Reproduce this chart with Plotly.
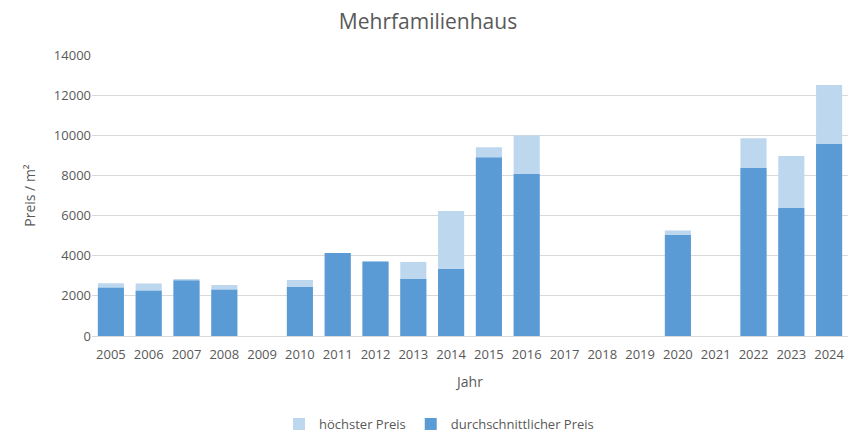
import plotly.graph_objects as go

# Jahre und Preise (EUR / m²)
years = [str(y) for y in range(2005, 2025)]
hoechster_preis = [2630, 2620, 2840, 2540, None, 2790, 4140, 3740, 3690, 6230,
                   9400, 9990, None, None, None, 5260, None, 9850, 8970, 12500]
durchschnitt_preis = [2400, 2260, 2760, 2310, None, 2440, 4130, 3700, 2840, 3340,
                      8890, 8070, None, None, None, 5030, None, 8370, 6380, 9570]
y_ticks = [0, 2000, 4000, 6000, 8000, 10000, 12000, 14000]

grey = '#595959'
font_family = 'Open Sans, sans-serif'

fig = go.Figure()
fig.add_trace(go.Bar(
    x=years, y=hoechster_preis, name='höchster Preis',
    marker=dict(color='#BDD7EE', line=dict(width=0)),
))
fig.add_trace(go.Bar(
    x=years, y=durchschnitt_preis, name='durchschnittlicher Preis',
    marker=dict(color='#5B9BD5', line=dict(width=0)),
))

fig.update_layout(
    width=856, height=434,
    barmode='overlay', bargap=0.31,
    paper_bgcolor='white', plot_bgcolor='white',
    margin=dict(l=92, r=8, t=55, b=98),
    font=dict(family=font_family, color=grey, size=13),
    title=dict(text='Mehrfamilienhaus', x=0.5, xanchor='center',
               y=0.95, yanchor='middle', font=dict(size=21, color=grey)),
    xaxis=dict(
        type='category', title=dict(text='Jahr', standoff=15, font=dict(size=14)),
        showgrid=False, showline=True, linecolor='#D9D9D9', linewidth=1,
        ticks='', tickfont=dict(size=13), ticklabelstandoff=6,
    ),
    yaxis=dict(
        range=[0, 14000], tickvals=y_ticks, tickformat='d',
        title=dict(text='Preis / m²', standoff=14, font=dict(size=14)),
        showgrid=True, gridcolor='#D9D9D9', gridwidth=1,
        zeroline=False, showline=False, ticks='', tickfont=dict(size=13),
    ),
    legend=dict(orientation='h', x=0.459, xanchor='center',
                yref='container', y=0.023, yanchor='middle',
                font=dict(size=13), traceorder='normal'),
    showlegend=True,
    hovermode=False,
)

fig.write_html('out.html', config={'displayModeBar': False},
               post_script="document.body.style.margin='0';")
